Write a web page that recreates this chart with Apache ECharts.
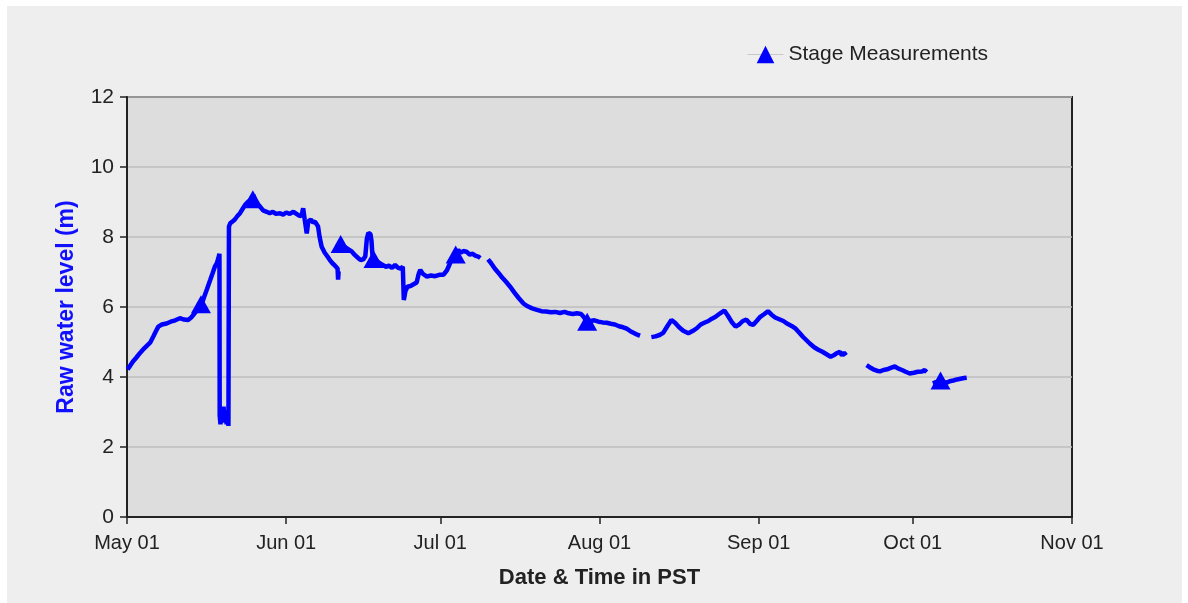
<!DOCTYPE html>
<html>
<head>
<meta charset="utf-8">
<title>Raw water level</title>
<script src="https://cdn.jsdelivr.net/npm/echarts@6/dist/echarts.min.js"></script>
<style>
html, body { margin: 0; padding: 0; background: #fff; }
#main { position: absolute; left: 7px; top: 6px; width: 1175px; height: 597px; }
</style>
</head>
<body>
<div id="main"></div>
<script>
var seasonStart = new Date(2010, 4, 1).getTime();
var seasonEnd = new Date(2010, 10, 1).getTime();
var dayMs = 86400000;

// logger record, [days since May 01, level m], one array per unbroken stretch
var segMay = [[0.1,4.22],[0.6,4.32],[1.2,4.45],[1.8,4.55],[2.5,4.68],[3.1,4.78],[3.8,4.88],[4.5,4.98],[5.1,5.15],[5.6,5.3],[6.1,5.44],[6.8,5.5],[7.7,5.53],[8.5,5.58],[9.4,5.62],[10.3,5.68],[11.1,5.64],[11.9,5.63],[12.5,5.7],[12.9,5.77],[13.5,5.88],[14.0,5.95],[14.5,6.06],[15.0,6.28],[15.6,6.52],[16.2,6.77],[16.7,6.98],[17.1,7.15],[17.5,7.25],[17.8,7.4],[18.0,7.52],
  [18.05,2.9],[18.2,2.65],[18.4,3.1],[18.6,2.7],[18.8,3.15],[19.0,2.75],[19.2,3.05],[19.4,2.65],[19.6,3.0],[19.75,2.6],[19.85,8.3],
  [20.1,8.39],[20.6,8.45],[21.0,8.5],[21.5,8.6],[22.0,8.68],[22.5,8.8],[23.0,8.92],[23.6,9.01],[24.0,9.05],[24.6,9.2],[25.0,9.02],[25.5,8.92],[25.9,8.87],[26.5,8.76],[27.2,8.72],[27.8,8.68],[28.4,8.72],[29.0,8.66],[29.8,8.68],[30.4,8.64],[31.0,8.7],[31.7,8.66],[32.4,8.72],[33.0,8.66],[33.6,8.6],[34.0,8.62],[34.3,8.82],[34.6,8.5],[35.0,8.1],[35.3,8.45],[35.8,8.5],[36.2,8.42],[36.6,8.44],[37.2,8.3],[37.5,8.0],[37.9,7.72],[38.5,7.55],[39.0,7.45],[39.5,7.34],[40.0,7.25],[40.5,7.18],[41.0,7.1],[41.1,6.78],[41.2,7.02]];
var segJun = [[41.5,7.82],[42.0,7.76],[42.6,7.7],[43.2,7.64],[43.8,7.58],[44.4,7.48],[45.0,7.4],[45.5,7.34],[46.0,7.36],[46.4,7.45],[46.7,7.95],[47.0,8.12],[47.4,8.08],[47.6,7.9],[47.8,7.45],[48.1,7.38],[48.6,7.32],[49.2,7.25],[49.8,7.2],[50.4,7.15],[51.0,7.18],[51.6,7.12],[52.2,7.2],[52.8,7.12],[53.3,7.1],[53.7,7.15],[53.9,6.2],[54.2,6.45],[54.6,6.58],[55.2,6.6],[55.8,6.65],[56.4,6.7],[56.8,6.95],[57.1,7.06],[57.6,6.95],[58.4,6.87],[59.2,6.9],[60.0,6.88],[60.8,6.92],[61.6,6.92],[62.3,7.05],[62.9,7.25],[63.5,7.44],[64.0,7.5],[64.5,7.63],[65.0,7.55],[65.5,7.6],[66.1,7.58],[66.7,7.5],[67.3,7.52],[67.9,7.46],[68.4,7.44],[68.8,7.4]];
var segJul = [[70.3,7.36],[70.9,7.25],[71.6,7.1],[72.3,6.98],[73.0,6.85],[73.8,6.72],[74.6,6.58],[75.4,6.42],[76.3,6.25],[77.2,6.1],[78.0,6.02],[78.9,5.96],[79.8,5.92],[80.7,5.88],[81.6,5.87],[82.5,5.85],[83.4,5.86],[84.3,5.83],[85.2,5.86],[86.0,5.82],[86.8,5.8],[87.6,5.82],[88.4,5.8],[88.9,5.72],[89.5,5.6],[90.2,5.6],[91.0,5.62],[91.8,5.58],[92.6,5.56],[93.4,5.55],[94.2,5.52],[95.0,5.5],[95.8,5.45],[96.6,5.42],[97.3,5.38],[98.1,5.3],[98.9,5.24],[99.5,5.2],[99.9,5.18]];
var segAug = [[102.1,5.14],[102.9,5.16],[103.7,5.2],[104.4,5.26],[105.2,5.45],[106.0,5.63],[106.7,5.55],[107.5,5.42],[108.3,5.32],[109.3,5.25],[110.2,5.32],[111.0,5.4],[111.7,5.5],[112.4,5.55],[113.2,5.6],[113.8,5.66],[114.6,5.72],[115.5,5.82],[116.3,5.9],[117.0,5.75],[117.7,5.58],[118.5,5.44],[119.2,5.5],[119.9,5.6],[120.6,5.64],[121.3,5.52],[121.9,5.49],[122.6,5.6],[123.3,5.72],[124.1,5.8],[124.8,5.88],[125.5,5.78],[126.2,5.7],[127.0,5.65],[127.8,5.6],[128.6,5.52],[129.4,5.46],[130.2,5.38],[131.0,5.25],[131.6,5.15],[132.3,5.05],[133.0,4.95],[133.8,4.85],[134.6,4.78],[135.4,4.72],[136.2,4.65],[137.0,4.58],[137.6,4.62],[138.2,4.68],[138.8,4.72],[139.2,4.62],[139.6,4.7],[140.0,4.62]];
var segSep = [[144.0,4.34],[144.6,4.28],[145.3,4.22],[146.0,4.18],[146.6,4.16],[147.3,4.2],[148.0,4.22],[148.7,4.26],[149.5,4.3],[150.2,4.24],[150.9,4.2],[151.6,4.15],[152.4,4.1],[153.2,4.12],[154.0,4.15],[154.8,4.16],[155.3,4.2],[155.7,4.14]];
var segOct = [[156.9,3.82],[157.5,3.85],[158.2,3.88],[158.9,3.86],[159.6,3.84],[160.2,3.88],[160.9,3.9],[161.6,3.93],[162.3,3.95],[163.0,3.97],[163.5,3.98]];

// manual stage readings
var stageDays = [14.4, 24.5, 41.6, 48.0, 64.0, 89.6, 158.4];
var stageValues = [6.08, 9.08, 7.8, 7.37, 7.5, 5.58, 3.9];

var levelData = [];
[segMay, segJun, segJul, segAug, segSep, segOct].forEach(function (seg, k) {
	if (k > 0) {
		levelData.push([seasonStart + (seg[0][0] - 0.05) * dayMs, '-']);
	}
	seg.forEach(function (p) {
		levelData.push([seasonStart + p[0] * dayMs, p[1]]);
	});
});

var stageData = stageDays.map(function (d, i) {
	return [seasonStart + d * dayMs, stageValues[i]];
});

var myChart = echarts.init(document.getElementById('main'));
var textColor = '#222';

var option = {
	backgroundColor: '#eeeeee',
	animation: false,
	textStyle: { fontFamily: 'Liberation Sans, Arial, sans-serif' },
	legend: {
		data: ['Stage Measurements'],
		left: 735,
		top: 33,
		itemWidth: 36,
		itemHeight: 22,
		textStyle: { fontSize: 21, color: textColor },
		lineStyle: { color: '#c8c8c8', width: 1, opacity: 1 }
	},
	grid: {
		left: 120,
		top: 91,
		right: 110,
		bottom: 86,
		show: true,
		backgroundColor: '#dddddd',
		borderColor: '#222',
		borderWidth: 2
	},
	xAxis: {
		type: 'time',
		min: seasonStart,
		max: seasonEnd,
		splitNumber: 5,
		minInterval: 28 * dayMs,
		maxInterval: 31 * dayMs,
		name: 'Date & Time in PST',
		nameLocation: 'middle',
		nameGap: 50,
		nameTextStyle: { fontSize: 22, fontWeight: 'bold', color: textColor },
		axisLine: { lineStyle: { color: '#222', width: 2 } },
		axisTick: { show: true, length: 7, lineStyle: { color: '#222', width: 1.5 } },
		axisLabel: {
			formatter: '{MMM} {dd}',
			fontSize: 20,
			color: textColor,
			margin: 16,
			showMinLabel: true,
			showMaxLabel: true
		},
		splitLine: { show: false }
	},
	yAxis: {
		type: 'value',
		min: 0,
		max: 12,
		interval: 2,
		name: 'Raw water level (m)',
		nameLocation: 'middle',
		nameGap: 49,
		nameTextStyle: { fontSize: 23, fontWeight: 'bold', color: '#1010ff' },
		axisLine: { show: true, lineStyle: { color: '#222', width: 2 } },
		axisTick: { show: true, length: 7, lineStyle: { color: '#222', width: 1.5 } },
		axisLabel: { fontSize: 21, color: textColor, margin: 13 },
		splitLine: { lineStyle: { color: '#bdbdbd', width: 1.5 } }
	},
	series: [{
		name: 'Raw water level',
		type: 'line',
		data: levelData,
		showSymbol: false,
		connectNulls: false,
		silent: true,
		lineStyle: { color: '#0000ff', width: 4.5 },
		itemStyle: { color: '#0000ff' },
		z: 2
	}, {
		name: 'Stage Measurements',
		type: 'line',
		data: stageData,
		symbol: 'triangle',
		symbolSize: [20, 18],
		showSymbol: true,
		itemStyle: { color: '#0000ff' },
		lineStyle: { opacity: 0 },
		z: 3
	}]
};
myChart.setOption(option);
</script>
</body>
</html>
